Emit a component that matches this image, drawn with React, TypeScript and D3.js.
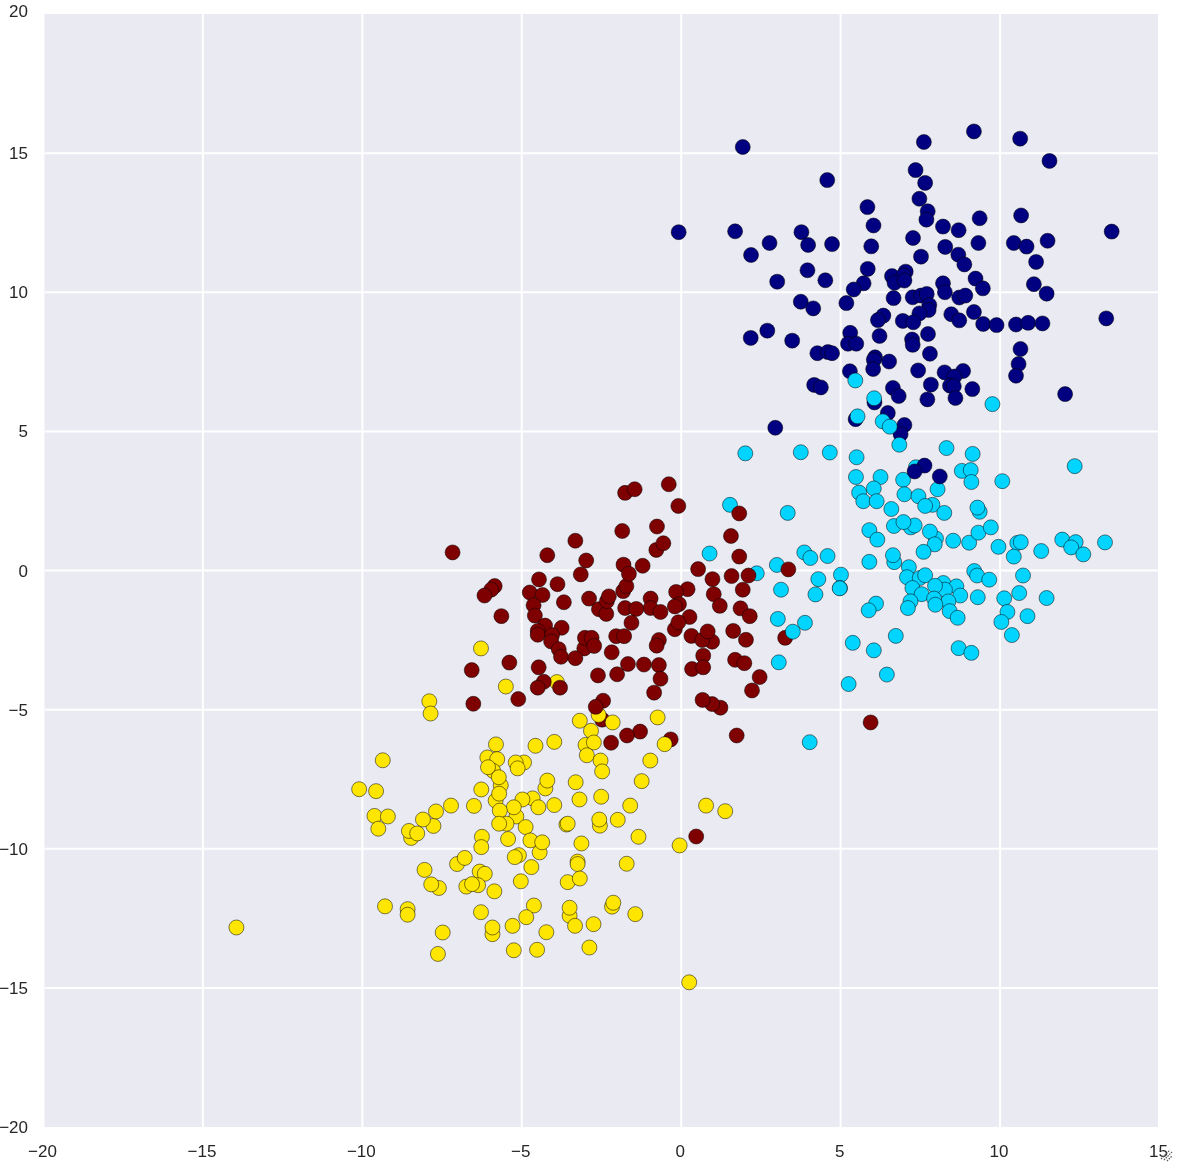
import React from "react";
import * as d3 from "d3";

type P = [number, number];

const xTicks = [-20, -15, -10, -5, 0, 5, 10, 15];
const yTicks = [-20, -15, -10, -5, 0, 5, 10, 15, 20];

const navy: P[] = [
[1.93,15.22],[7.61,15.40],[9.18,15.78],[10.63,15.52],[11.55,14.72],[7.35,14.39],[7.65,13.93],[4.58,14.03],[7.47,13.36],[7.73,12.91],
[7.69,12.61],[5.84,13.06],[6.03,12.40],[9.36,12.66],[10.66,12.76],[8.21,12.36],[8.70,12.23],[13.50,12.18],[-0.08,12.16],[1.69,12.19],
[3.77,12.16],[3.98,11.70],[2.77,11.77],[2.19,11.34],[4.73,11.73],[5.96,11.65],[7.27,11.95],[8.28,11.63],[9.32,11.77],[10.43,11.77],
[10.83,11.64],[11.49,11.85],[7.52,11.28],[8.69,11.35],[8.88,11.00],[11.13,11.09],[3.96,10.79],[5.85,10.84],[4.52,10.43],[3.01,10.38],
[7.04,10.74],[6.61,10.58],[6.97,10.60],[6.69,10.34],[7.00,10.42],[5.72,10.32],[5.41,10.10],[8.21,10.32],[8.27,10.00],[9.23,10.49],
[9.46,10.14],[11.06,10.29],[11.46,9.95],[3.75,9.66],[4.14,9.42],[5.18,9.61],[6.66,9.79],[7.26,9.82],[7.52,9.88],[7.70,9.94],
[8.72,9.81],[8.91,9.88],[7.78,9.54],[7.76,9.36],[7.47,9.24],[6.34,9.16],[6.17,9.00],[6.95,8.97],[7.28,8.92],[8.47,9.21],
[8.72,8.99],[9.18,9.29],[9.47,8.86],[9.89,8.82],[10.50,8.84],[10.88,8.90],[11.33,8.88],[13.33,9.06],[2.70,8.62],[2.18,8.36],
[3.48,8.26],[5.30,8.54],[6.22,8.43],[7.74,8.50],[7.24,8.30],[7.26,8.11],[5.23,8.15],[5.49,8.15],[4.27,7.81],[4.60,7.85],
[4.73,7.81],[10.64,7.96],[7.80,7.79],[6.08,7.66],[6.04,7.57],[6.52,7.51],[6.02,7.24],[5.29,7.16],[7.43,7.19],[8.26,7.12],
[8.84,7.17],[8.57,6.97],[10.58,7.42],[10.50,7.00],[7.83,6.68],[8.43,6.64],[8.55,6.62],[4.17,6.67],[4.38,6.58],[6.64,6.56],
[6.82,6.27],[9.13,6.52],[7.72,6.15],[8.60,6.20],[12.04,6.34],[6.06,6.04],[5.47,5.44],[6.48,5.66],[7.00,5.23],[6.88,4.90],
[2.95,5.13],
];

const maroonEarly: P[] = [[-2.48,-5.36],[-0.33,-6.07],[3.26,-2.42]];

const cyan: P[] = [
[5.46,6.83],[6.05,6.19],[5.53,5.54],[6.32,5.36],[6.54,5.17],[6.84,4.52],[9.76,5.98],[2.01,4.21],[3.75,4.25],[4.66,4.24],
[5.50,4.07],[8.32,4.40],[9.14,4.19],[12.34,3.75],[7.36,3.71],[5.48,3.36],[6.25,3.36],[6.96,3.26],[8.80,3.58],[9.08,3.61],
[9.10,3.18],[10.07,3.21],[6.04,2.95],[8.04,2.92],[7.00,2.74],[7.44,2.67],[5.58,2.80],[5.71,2.49],[6.13,2.49],[6.59,2.21],
[7.88,2.36],[7.65,2.32],[8.25,2.07],[9.36,2.11],[9.29,2.26],[1.53,2.36],[3.34,2.07],[6.67,1.60],[7.20,1.55],[7.32,1.62],
[6.97,1.74],[7.99,1.15],[7.80,1.40],[5.90,1.45],[6.15,1.11],[7.95,0.94],[8.53,1.07],[9.03,1.00],[9.32,1.36],[9.71,1.55],
[9.95,0.85],[10.54,0.99],[10.65,1.02],[11.29,0.70],[11.95,1.11],[12.37,1.02],[12.23,0.83],[12.61,0.58],[13.29,1.01],[7.60,0.67],
[10.43,0.50],[0.89,0.61],[3.86,0.65],[4.05,0.45],[4.59,0.52],[6.68,0.30],[6.64,0.55],[5.90,0.31],[3.00,0.20],[2.37,-0.10],
[7.14,0.12],[9.19,-0.02],[9.28,-0.18],[9.66,-0.33],[10.72,-0.18],[5.01,-0.15],[4.30,-0.31],[4.98,-0.63],[4.97,-0.64],[7.08,-0.24],
[7.48,-0.27],[7.65,-0.17],[8.22,-0.45],[8.63,-0.57],[8.27,-0.69],[7.96,-0.55],[7.25,-0.63],[7.54,-0.85],[8.75,-0.90],[9.30,-0.96],
[7.93,-1.01],[8.38,-1.11],[3.13,-0.69],[4.21,-0.86],[7.19,-1.11],[7.11,-1.35],[7.97,-1.23],[8.42,-1.46],[10.13,-1.00],[10.60,-0.81],
[11.46,-0.99],[6.11,-1.19],[5.88,-1.43],[10.23,-1.49],[10.86,-1.64],[8.67,-1.70],[3.03,-1.74],[3.88,-1.88],[10.04,-1.85],[3.50,-2.20],
[10.37,-2.32],[6.73,-2.35],[5.38,-2.60],[6.04,-2.87],[8.70,-2.79],[9.10,-2.96],[3.06,-3.30],[6.45,-3.74],[5.25,-4.08],[4.03,-6.17],
];

const navyLate: P[] = [[7.63,3.77],[7.32,3.56],[8.11,3.38]];

const yellow: P[] = [
[-7.90,-4.70],[-7.86,-5.14],[-3.18,-5.40],[-2.59,-5.19],[-2.83,-5.76],[-2.15,-5.46],[-0.74,-5.28],[-0.52,-6.24],[-4.57,-6.30],[-3.98,-6.16],
[-5.81,-6.25],[-3.00,-6.27],[-2.74,-6.18],[-2.96,-6.64],[-9.36,-6.82],[-6.08,-6.72],[-5.77,-6.78],[-4.93,-6.90],[-5.19,-6.90],[-5.13,-7.11],
[-5.90,-7.20],[-6.06,-7.07],[-2.53,-6.83],[-2.48,-7.22],[-0.97,-6.83],[-1.24,-7.57],[-3.31,-7.61],[-4.26,-7.83],[-4.20,-7.55],[-5.66,-7.72],
[-5.72,-7.43],[-6.27,-7.87],[-10.10,-7.86],[-9.57,-7.93],[-5.82,-8.27],[-5.71,-8.02],[-4.66,-8.19],[-4.98,-8.23],[-3.19,-8.23],[-2.51,-8.13],
[-4.48,-8.51],[-3.98,-8.43],[-5.17,-8.84],[-5.25,-8.51],[-6.50,-8.46],[-7.22,-8.45],[-1.60,-8.45],[0.78,-8.45],[1.38,-8.65],[-5.69,-8.63],
[-7.77,-9.18],[-7.69,-8.66],[-9.62,-8.82],[-9.20,-8.84],[-8.10,-8.95],[-1.99,-8.96],[-2.55,-9.17],[-2.57,-8.95],[-5.48,-9.10],[-5.71,-9.10],
[-4.88,-9.22],[-3.60,-9.13],[-3.56,-9.10],[-9.50,-9.28],[-8.47,-9.61],[-8.54,-9.36],[-8.28,-9.45],[-6.25,-9.57],[-6.27,-9.94],[-5.43,-9.65],
[-4.73,-9.70],[-4.44,-10.13],[-4.36,-9.77],[-3.13,-9.81],[-1.34,-9.57],[-0.05,-9.88],[-5.09,-10.23],[-5.22,-10.30],[-7.03,-10.55],[-6.79,-10.33],
[-4.70,-10.66],[-3.25,-10.46],[-3.25,-10.55],[-1.71,-10.54],[-8.05,-10.76],[-6.32,-10.82],[-6.16,-10.90],[-3.56,-11.20],[-3.18,-11.07],[-5.03,-11.17],
[-7.60,-11.41],[-7.84,-11.28],[-6.74,-11.36],[-6.37,-11.31],[-6.56,-11.27],[-5.86,-11.53],[-9.29,-12.07],[-8.58,-12.17],[-8.58,-12.37],[-6.28,-12.28],
[-4.62,-12.04],[-4.86,-12.46],[-3.50,-12.41],[-3.50,-12.12],[-3.33,-12.77],[-2.75,-12.71],[-2.17,-12.08],[-2.13,-11.94],[-1.44,-12.35],[-5.29,-12.77],
[-5.92,-13.07],[-5.92,-12.83],[-4.23,-13.00],[-7.48,-13.01],[-7.63,-13.78],[-5.25,-13.65],[-4.52,-13.63],[-2.88,-13.55],[0.25,-14.80],[-13.95,-12.83],
[-3.90,-4.01],[-5.50,-4.17],[-6.28,-2.80],
];

const maroon: P[] = [
[-0.39,3.10],[-1.76,2.79],[-1.46,2.92],[-0.09,2.32],[1.82,2.05],[-0.76,1.58],[-1.85,1.42],[1.56,1.24],[-3.32,1.07],[-0.78,0.74],
[-0.56,0.98],[-7.17,0.65],[-4.20,0.55],[1.82,0.50],[-2.98,0.36],[-1.81,0.21],[-1.21,0.17],[0.53,0.05],[3.36,0.04],[-1.82,-0.74],
[-1.72,-0.56],[-1.64,-0.12],[-3.15,-0.14],[1.58,-0.20],[2.11,-0.18],[0.98,-0.31],[-4.46,-0.32],[-3.88,-0.49],[-5.85,-0.56],[-5.96,-0.69],
[-6.17,-0.90],[0.20,-0.67],[-0.16,-0.77],[1.93,-0.69],[-4.75,-0.79],[-4.35,-0.88],[1.02,-0.85],[-2.89,-1.01],[-2.58,-1.39],[-2.35,-1.56],
[-2.33,-1.10],[-2.27,-0.93],[-0.96,-1.01],[-3.68,-1.14],[-0.07,-1.21],[-0.20,-1.29],[1.21,-1.27],[-4.63,-1.25],[-0.96,-1.35],[-1.76,-1.35],
[-1.41,-1.38],[1.86,-1.36],[-0.65,-1.49],[-4.59,-1.62],[2.15,-1.64],[-5.64,-1.64],[-0.20,-2.11],[0.26,-1.67],[-1.56,-1.88],[-0.09,-1.86],
[-4.27,-1.98],[-3.75,-2.06],[1.63,-2.17],[-4.50,-2.17],[-4.50,-2.31],[-4.05,-2.32],[-2.04,-2.36],[-1.79,-2.36],[0.32,-2.35],[0.97,-2.56],
[0.66,-2.50],[0.83,-2.19],[-4.08,-2.55],[-3.04,-2.80],[-3.02,-2.42],[-2.81,-2.42],[-0.70,-2.50],[2.03,-2.49],[-0.77,-2.70],[-2.73,-2.71],
[-3.84,-2.83],[-2.18,-2.94],[-3.77,-3.10],[-3.32,-3.15],[0.69,-3.06],[1.69,-3.21],[1.98,-3.33],[-5.39,-3.31],[-1.67,-3.36],[-1.17,-3.38],
[-0.70,-3.40],[-4.47,-3.48],[0.34,-3.54],[0.69,-3.48],[-6.57,-3.58],[-2.61,-3.77],[-2.01,-3.73],[-0.65,-3.89],[2.46,-3.83],[-4.31,-4.00],
[-4.50,-4.21],[-3.80,-4.21],[-0.85,-4.39],[2.22,-4.31],[-5.11,-4.62],[-6.52,-4.79],[1.23,-4.93],[0.97,-4.80],[0.67,-4.65],[-2.45,-4.68],
[-2.68,-4.90],[1.74,-5.93],[-1.29,-5.79],[-1.70,-5.93],[-2.20,-6.19],[5.94,-5.46],[0.47,-9.56],
];

const layers: { pts: P[]; color: string }[] = [
  { pts: navy, color: "#000080" },
  { pts: maroonEarly, color: "#7f0000" },
  { pts: cyan, color: "#00d4ff" },
  { pts: navyLate, color: "#000080" },
  { pts: yellow, color: "#ffe600" },
  { pts: maroon, color: "#7f0000" },
];

const W = 1184;
const H = 1162;
const x = d3.scaleLinear().domain([-20, 15]).range([43.5, 1159.5]);
const y = d3.scaleLinear().domain([-20, 20]).range([1127, 14]);
const panelLeft = 44.5;
const panelRight = 1158;
const fmt = (v: number) => (v < 0 ? "\u2212" + Math.abs(v) : String(v));
const font = "'Liberation Sans', Arial, sans-serif";

export default function App() {
  return (
    <svg
      width={W}
      height={H}
      viewBox={`0 0 ${W} ${H}`}
      style={{ position: "absolute", left: 0, top: 0, background: "#fff" }}
    >
      <defs>
        <filter id="soft" filterUnits="userSpaceOnUse" x={0} y={0} width={W} height={H}>
          <feGaussianBlur stdDeviation="0.55" />
        </filter>
        <filter id="softer" filterUnits="userSpaceOnUse" x={0} y={0} width={W} height={H}>
          <feGaussianBlur stdDeviation="0.5" />
        </filter>
        <clipPath id="panel">
          <rect x={panelLeft} y={y(20)} width={panelRight - panelLeft} height={y(-20) - y(20)} />
        </clipPath>
      </defs>
      <rect x={panelLeft} y={y(20)} width={panelRight - panelLeft} height={y(-20) - y(20)} fill="#eaeaf2" />
      <g clipPath="url(#panel)">
        <g stroke="#fff" strokeWidth={2} filter="url(#softer)">
          {xTicks.slice(1, -1).map((t) => (
            <line key={t} x1={x(t)} x2={x(t)} y1={y(20)} y2={y(-20)} />
          ))}
          {yTicks.slice(1, -1).map((t) => (
            <line key={t} x1={panelLeft} x2={panelRight} y1={y(t)} y2={y(t)} />
          ))}
        </g>
      </g>
      <g filter="url(#soft)">
        {layers.map((l, i) => (
          <g key={i} fill={l.color} stroke="#000" strokeOpacity={0.5} strokeWidth={1}>
            {l.pts.map((p, j) => (
              <circle key={j} cx={x(p[0])} cy={y(p[1])} r={7.5} />
            ))}
          </g>
        ))}
      </g>
      <g fontFamily={font} fontSize={17} fill="#262626" filter="url(#softer)">
        {xTicks.map((t) => (
          <text key={t} x={x(t) - 1} y={1157} textAnchor="middle">
            {fmt(t)}
          </text>
        ))}
        {yTicks.map((t) => (
          <text key={t} x={28} y={t === 20 ? 17 : y(t) + 6} textAnchor="end">
            {fmt(t)}
          </text>
        ))}
      </g>
      <g stroke="#555" strokeWidth={1.2} strokeDasharray="1.5 1" filter="url(#softer)">
        <line x1={1161} y1={1159} x2={1170} y2={1150} />
        <line x1={1164} y1={1160} x2={1172} y2={1152} />
        <line x1={1167} y1={1161} x2={1172} y2={1156} />
      </g>
    </svg>
  );
}
